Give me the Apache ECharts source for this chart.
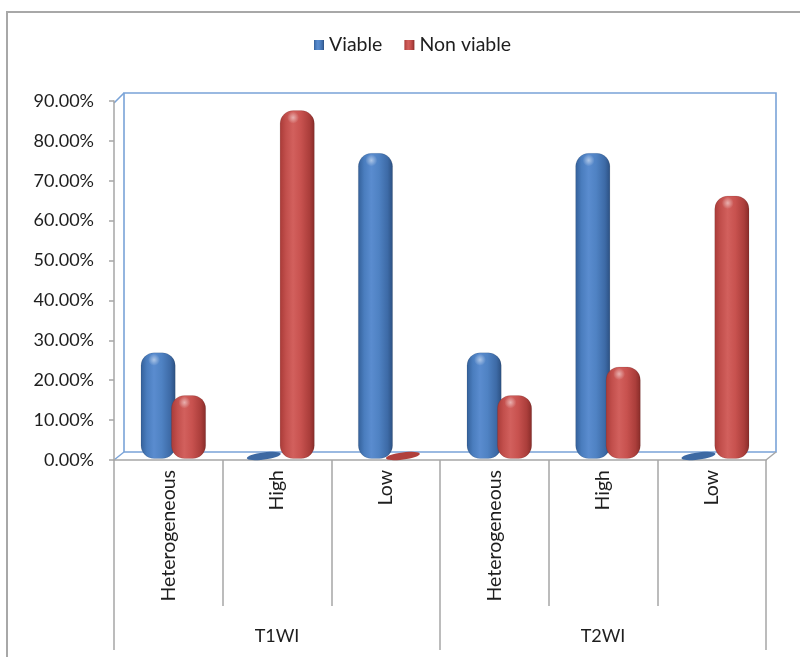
<!DOCTYPE html>
<html>
<head>
<meta charset="utf-8">
<script src="https://cdn.jsdelivr.net/npm/echarts@6/dist/echarts.min.js"></script>
<style>
  html, body { margin: 0; padding: 0; background: #fff; }
  #chart { width: 800px; height: 657px; }
</style>
</head>
<body>
<div id="chart"></div>
<script>
// Signal types per MRI sequence
const categories = ['Heterogeneous', 'High', 'Low', 'Heterogeneous', 'High', 'Low'];
const groups = ['T1WI', 'T2WI'];
const seriesNames = ['Viable', 'Non viable'];

// Percentages
const viable = [25, 0, 75, 25, 75, 0];
const nonViable = [14.29, 85.71, 0, 14.29, 21.43, 64.29];

// Y axis range
const yMin = 0, yMax = 90, yStep = 10;

const FONT = 'Lato, "Open Sans", sans-serif';
const GRID = { left: 114, right: 34, top: 101, bottom: 197 };
const W = 800, H = 657;
const FRONT = { x0: GRID.left, x1: W - GRID.right, y0: GRID.top, y1: H - GRID.bottom };
const DEPTH = { x: 10, y: -8 };
const WALL = '#7aa3d8';
const AXIS = '#a6a6a6';

const palettes = {
  blue: {
    body: [['#335f98', 0], ['#4a7dbe', 0.18], ['#5a8ccf', 0.38], ['#4f82c3', 0.6], ['#3d6aa6', 0.85], ['#2b4f80', 1]],
    flat: '#3d69a3'
  },
  red: {
    body: [['#a83a37', 0], ['#c24f4c', 0.18], ['#d2605d', 0.38], ['#c8524f', 0.6], ['#ab3e3b', 0.85], ['#862b28', 1]],
    flat: '#b0403c'
  }
};

function hGradient(stops) {
  return new echarts.graphic.LinearGradient(0, 0, 1, 0,
    stops.map(s => ({ color: s[0], offset: s[1] })));
}

// Draws one cylinder per data item, sitting halfway into the floor depth
function cylinder(shiftFrac, pal) {
  return function (params, api) {
    const idx = api.value(0);
    const val = api.value(1);
    const band = api.size([1, 0])[0];
    const w = band * 0.315;
    const base = api.coord([idx, 0]);
    const top = api.coord([idx, val]);
    const cx = base[0] + band * shiftFrac + DEPTH.x / 2;
    const baseY = base[1] + DEPTH.y / 2;
    const levelY = top[1] + DEPTH.y / 2;
    const capH = 3.5;

    if (val <= 0) {
      // flat disc on the floor
      const pts = [];
      const rx = w / 2, ry = 3.6, rot = -0.13;
      const ex = cx - 3;
      for (let k = 0; k < 32; k++) {
        const t = (k / 32) * Math.PI * 2;
        const px = rx * Math.cos(t), py = ry * Math.sin(t);
        pts.push([ex + px * Math.cos(rot) - py * Math.sin(rot),
                  baseY + px * Math.sin(rot) + py * Math.cos(rot)]);
      }
      return {
        type: 'polygon',
        shape: { points: pts },
        style: { fill: pal.flat, stroke: null }
      };
    }

    const yTop = levelY - capH;
    const yBot = baseY + capH - 1;
    const h = yBot - yTop;
    const r = Math.min(13, h / 2);
    return {
      type: 'group',
      children: [
        {
          type: 'rect',
          shape: { x: cx - w / 2, y: yTop, width: w, height: h, r: r },
          style: { fill: hGradient(pal.body), stroke: 'rgba(0,0,0,0.12)', lineWidth: 0.8 }
        },
        {
          type: 'circle',
          shape: { cx: cx - w * 0.12, cy: yTop + 7, r: 6 },
          style: {
            fill: new echarts.graphic.RadialGradient(0.5, 0.5, 0.5, [
              { offset: 0, color: 'rgba(255,255,255,0.5)' },
              { offset: 1, color: 'rgba(255,255,255,0)' }
            ])
          }
        }
      ]
    };
  };
}

const chart = echarts.init(document.getElementById('chart'), null, { renderer: 'canvas' });

const wallGraphics = [
  // outer frame
  { type: 'rect', shape: { x: 7, y: 12, width: 900, height: 900 },
    style: { fill: null, stroke: '#a8a8a8', lineWidth: 2 }, z: 0 },
  // back wall
  { type: 'rect',
    shape: { x: FRONT.x0 + DEPTH.x, y: FRONT.y0 + DEPTH.y,
             width: FRONT.x1 - FRONT.x0, height: FRONT.y1 - FRONT.y0 },
    style: { fill: null, stroke: WALL, lineWidth: 1.6 }, z: 0 },
  // side wall edges
  { type: 'line', shape: { x1: FRONT.x0, y1: FRONT.y0 + 2, x2: FRONT.x0 + DEPTH.x, y2: FRONT.y0 + DEPTH.y },
    style: { stroke: WALL, lineWidth: 1.6 }, z: 0 },
  { type: 'line', shape: { x1: FRONT.x0, y1: FRONT.y1, x2: FRONT.x0 + DEPTH.x, y2: FRONT.y1 + DEPTH.y },
    style: { stroke: WALL, lineWidth: 1.4 }, z: 0 },
  // floor right edge
  { type: 'line', shape: { x1: FRONT.x1, y1: FRONT.y1, x2: FRONT.x1 + DEPTH.x, y2: FRONT.y1 + DEPTH.y },
    style: { stroke: AXIS, lineWidth: 1.4 }, z: 0 }
];

const labelStyle = { fontFamily: FONT, fontSize: 18, color: '#1e1e1e' };

chart.setOption({
  animation: false,
  backgroundColor: '#ffffff',
  legend: {
    data: seriesNames,
    left: 309,
    top: 30,
    icon: 'rect',
    itemWidth: 10,
    itemHeight: 10,
    itemGap: 22,
    textStyle: { fontFamily: FONT, fontSize: 19.5, color: '#1e1e1e' }
  },
  grid: GRID,
  graphic: wallGraphics,
  xAxis: [
    {
      type: 'category',
      data: categories,
      boundaryGap: true,
      axisLine: { show: true, lineStyle: { color: AXIS, width: 1.5 } },
      axisTick: { show: true, interval: 0, length: 146, lineStyle: { color: AXIS, width: 1.5 } },
      axisLabel: { interval: 0, rotate: 90, margin: 10, ...labelStyle, fontSize: 19.5, padding: [8, 0, 0, 0] }
    },
    {
      type: 'category',
      data: groups,
      position: 'bottom',
      offset: 146,
      axisLine: { show: false },
      axisTick: { show: true, interval: 0, length: 44, lineStyle: { color: AXIS, width: 1.5 } },
      axisLabel: { interval: 0, margin: 21, ...labelStyle }
    }
  ],
  yAxis: {
    type: 'value',
    min: yMin,
    max: yMax,
    interval: yStep,
    axisLine: { show: true, lineStyle: { color: AXIS, width: 1.5 } },
    axisTick: { show: true, length: 5, lineStyle: { color: AXIS, width: 1.5 } },
    splitLine: { show: false },
    axisLabel: { margin: 20, formatter: v => v.toFixed(2) + '%', ...labelStyle }
  },
  series: [
    {
      name: seriesNames[0],
      type: 'custom',
      z: 10,
      silent: true,
      itemStyle: { color: hGradient(palettes.blue.body) },
      encode: { x: 0, y: 1 },
      data: viable.map((v, i) => [i, v]),
      renderItem: cylinder(-0.14, palettes.blue)
    },
    {
      name: seriesNames[1],
      type: 'custom',
      z: 11,
      silent: true,
      itemStyle: { color: hGradient(palettes.red.body) },
      encode: { x: 0, y: 1 },
      data: nonViable.map((v, i) => [i, v]),
      renderItem: cylinder(0.14, palettes.red)
    }
  ]
});
</script>
</body>
</html>
